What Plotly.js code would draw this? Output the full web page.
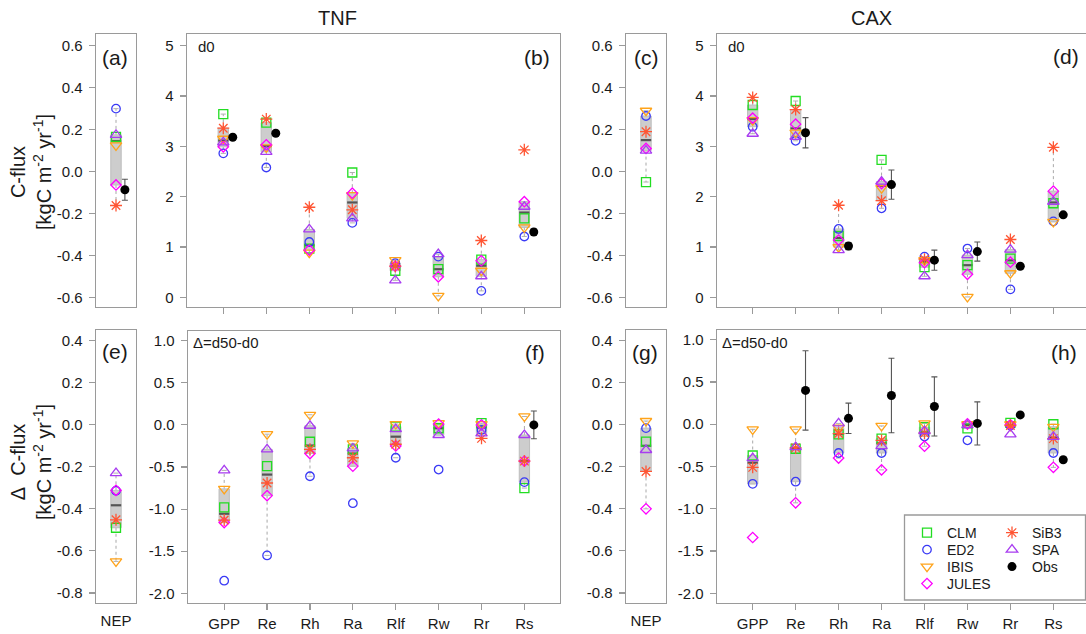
<!DOCTYPE html>
<html><head><meta charset="utf-8">
<script src="https://cdn.plot.ly/plotly-3.0.1.min.js"></script>
<style>html,body{margin:0;padding:0;background:#fff;}#chart{width:1086px;height:634px;}</style>
</head><body><div id="chart"></div>
<script>
// ---------------- DATA ----------------
const models = ['CLM', 'ED2', 'IBIS', 'JULES', 'SiB3', 'SPA'];
const fluxCats = ['GPP', 'Re', 'Rh', 'Ra', 'Rlf', 'Rw', 'Rr', 'Rs'];
const nepCats = ['NEP'];

// NEP, values in model order (CLM, ED2, IBIS, JULES, SiB3, SPA)
const nep_TNF_d0 = [0.165, 0.30, 0.125, -0.064, -0.162, 0.175];
const nep_CAX_d0 = [-0.05, 0.265, 0.29, 0.11, 0.19, 0.10];
const nep_TNF_dd = [-0.49, -0.314, -0.65, -0.312, -0.452, -0.23];
const nep_CAX_dd = [-0.08, -0.016, 0.018, -0.40, -0.222, -0.12];
const nepObs_TNF_d0 = [-0.087];
const nepObsErr_TNF_d0 = [0.05];

// TNF d0 (GPP, Re, Rh, Ra, Rlf, Rw, Rr, Rs)
const tnf_d0_CLM   = [3.64, 3.47, 0.97, 2.48, 0.53, 0.56, 0.75, 1.57];
const tnf_d0_ED2   = [2.86, 2.58, 1.10, 1.48, 0.68, 0.81, 0.13, 1.21];
const tnf_d0_IBIS  = [3.15, 2.98, 0.89, 2.03, 0.74, 0.03, 0.53, 1.39];
const tnf_d0_JULES = [2.99, 3.03, 0.94, 2.07, 0.62, 0.41, 0.73, 1.90];
const tnf_d0_SiB3  = [3.36, 3.54, 1.79, 1.74, 0.62, null, 1.13, 2.93];
const tnf_d0_SPA   = [3.08, 2.89, 1.35, 1.57, 0.34, 0.86, 0.42, 1.80];
const tnf_d0_obs    = [3.18, 3.26, null, null, null, null, null, 1.30];
const tnf_d0_obsErr = [0.03, 0.03, null, null, null, null, null, 0.06];

// CAX d0
const cax_d0_CLM   = [3.82, 3.90, 1.22, 2.73, 0.60, 0.64, 0.77, 1.87];
const cax_d0_ED2   = [3.39, 3.11, 1.36, 1.77, 0.81, 0.97, 0.16, 1.51];
const cax_d0_IBIS  = [3.52, 3.27, 1.00, 2.17, 0.74, 0.01, 0.48, 1.50];
const cax_d0_JULES = [3.56, 3.44, 1.14, 2.26, 0.69, 0.46, 0.70, 2.11];
const cax_d0_SiB3  = [3.97, 3.73, 1.83, 1.92, 0.76, null, 1.15, 2.98];
const cax_d0_SPA   = [3.25, 3.19, 0.94, 2.30, 0.42, 0.84, 0.95, 1.90];
const cax_d0_obs    = [null, 3.27, 1.02, 2.24, 0.74, 0.91, 0.62, 1.64];
const cax_d0_obsErr = [null, 0.30, 0.07, 0.29, 0.20, 0.19, 0, 0];

// TNF delta = d50 - d0
const tnf_dd_CLM   = [-0.98, -0.49, -0.20, -0.29, -0.02, -0.04, 0.02, -0.75];
const tnf_dd_ED2   = [-1.85, -1.55, -0.61, -0.93, -0.39, -0.53, -0.06, -0.68];
const tnf_dd_IBIS  = [-0.76, -0.11, 0.12, -0.22, 0.01, 0.02, 0.01, 0.10];
const tnf_dd_JULES = [-1.16, -0.84, -0.34, -0.49, -0.25, 0.01, 0.00, -0.43];
const tnf_dd_SiB3  = [-1.13, -0.69, -0.29, -0.39, -0.23, null, -0.16, -0.43];
const tnf_dd_SPA   = [-0.54, -0.29, -0.01, -0.28, -0.05, -0.12, -0.10, -0.12];
const tnf_dd_obs    = [null, null, null, null, null, null, null, 0.00];
const tnf_dd_obsErr = [null, null, null, null, null, null, null, 0.165];

// CAX delta = d50 - d0
const cax_dd_CLM   = [-0.37, -0.29, -0.12, -0.17, -0.035, -0.05, 0.017, 0.00];
const cax_dd_ED2   = [-0.705, -0.68, -0.34, -0.34, -0.145, -0.19, -0.015, -0.34];
const cax_dd_IBIS  = [-0.06, -0.06, -0.04, -0.02, 0.01, 0.00, 0.00, -0.03];
const cax_dd_JULES = [-1.34, -0.93, -0.40, -0.54, -0.26, 0.005, -0.007, -0.51];
const cax_dd_SiB3  = [-0.51, -0.28, -0.11, -0.19, -0.105, null, -0.015, -0.17];
const cax_dd_SPA   = [-0.40, -0.27, 0.01, -0.26, -0.08, -0.01, -0.12, -0.15];
const cax_dd_obs    = [null, 0.40, 0.07, 0.34, 0.21, 0.01, 0.11, -0.42];
const cax_dd_obsErr = [null, 0.47, 0.18, 0.44, 0.35, 0.255, 0, 0];

// tick values
const yTicksNepTop = [-0.6, -0.4, -0.2, 0, 0.2, 0.4, 0.6];
const yTicksFluxTop = [0, 1, 2, 3, 4, 5];
const yTicksNepBot = [-0.8, -0.6, -0.4, -0.2, 0, 0.2, 0.4];
const yTicksFluxBot = [-2, -1.5, -1, -0.5, 0, 0.5, 1];

// ---------------- STYLE ----------------
const modelColors = ['#22dd22', '#3a3af5', '#ffa31a', '#ff00ff', '#ff5533', '#a83cf0'];
const modelSymbols = ['square-open', 'circle-open', 'triangle-down-open', 'diamond-open', 'asterisk-open', 'triangle-up-open'];
const modelSizes = [9, 8.5, 10, 8, 10, 10];
const modelLegend = ['legend', 'legend2', 'legend3', 'legend4', 'legend5', 'legend6'];
const W = 1086, H = 634;
const px = v => v / W;
const py = v => 1 - v / H;
const FONT = 'Liberation Sans, Arial, sans-serif';
const AX = '#9a9a9a';

function fivenum(v) {
  const n = v.length;
  const n4 = Math.floor((n + 3) / 2) / 2;
  const d = [1, n4, (n + 1) / 2, n + 1 - n4, n];
  return d.map(p => 0.5 * (v[Math.floor(p) - 1] + v[Math.ceil(p) - 1]));
}
function boxStats(vals) {
  const v = vals.filter(a => a !== null && a !== undefined).sort((a, b) => a - b);
  const f = fivenum(v);
  const iqr = f[3] - f[1];
  const loLim = f[1] - 1.5 * iqr, hiLim = f[3] + 1.5 * iqr;
  const lo = Math.min(...v.filter(a => a >= loLim));
  const hi = Math.max(...v.filter(a => a <= hiLim));
  return { q1: f[1], med: f[2], q3: f[3], lo: lo, hi: hi };
}

const traces = [];
function addPanel(k, cats, modelVals, obs, obsErr, hw, obsOff, withLegend) {
  const xa = k === 1 ? 'x' : 'x' + k, ya = k === 1 ? 'y' : 'y' + k;
  const bx = [], by = [], mx = [], my = [], wx = [], wy = [], sx = [], sy = [];
  const sh = hw * 0.5;
  cats.forEach((c, i) => {
    const x = i + 1;
    const s = boxStats(modelVals.map(m => m[i]));
    bx.push(x - hw, x + hw, x + hw, x - hw, x - hw, null);
    by.push(s.q1, s.q1, s.q3, s.q3, s.q1, null);
    mx.push(x - hw, x + hw, null); my.push(s.med, s.med, null);
    wx.push(x, x, null, x, x, null); wy.push(s.q1, s.lo, null, s.q3, s.hi, null);
    sx.push(x - sh, x + sh, null, x - sh, x + sh, null); sy.push(s.lo, s.lo, null, s.hi, s.hi, null);
  });
  const base = { xaxis: xa, yaxis: ya, showlegend: false, hoverinfo: 'skip' };
  traces.push(Object.assign({}, base, { x: wx, y: wy, mode: 'lines', line: { color: '#a8a8a8', width: 1, dash: 'dot' } }));
  traces.push(Object.assign({}, base, { x: sx, y: sy, mode: 'lines', line: { color: '#b0b0b0', width: 1 } }));
  traces.push(Object.assign({}, base, { x: bx, y: by, mode: 'lines', fill: 'toself', fillcolor: '#cdcdcd', line: { color: '#bdbdbd', width: 1 } }));
  traces.push(Object.assign({}, base, { x: mx, y: my, mode: 'lines', line: { color: '#555555', width: 2.2 } }));
  modelVals.forEach((vals, m) => {
    traces.push({
      xaxis: xa, yaxis: ya, name: models[m], legend: modelLegend[m],
      showlegend: withLegend, hoverinfo: 'skip',
      x: cats.map((c, i) => i + 1), y: vals, mode: 'markers',
      marker: { symbol: modelSymbols[m], size: modelSizes[m], color: modelColors[m], line: { color: modelColors[m], width: 1.3 } }
    });
  });
  if (obs) {
    traces.push({
      xaxis: xa, yaxis: ya, name: 'Obs', legend: 'legend7', showlegend: withLegend, hoverinfo: 'skip',
      x: cats.map((c, i) => i + 1 + obsOff), y: obs, mode: 'markers',
      marker: { symbol: 'circle', size: 9, color: '#000000' },
      error_y: { type: 'data', array: obsErr, visible: true, color: '#555555', thickness: 1.1, width: 3 }
    });
  }
}

const nepAsArrays = v => v.map(a => [a]);

addPanel(1, nepCats, nepAsArrays(nep_TNF_d0), nepObs_TNF_d0, nepObsErr_TNF_d0, 0.14, 0.24, false);
addPanel(2, fluxCats, [tnf_d0_CLM, tnf_d0_ED2, tnf_d0_IBIS, tnf_d0_JULES, tnf_d0_SiB3, tnf_d0_SPA], tnf_d0_obs, tnf_d0_obsErr, 0.12, 0.22, true);
addPanel(3, nepCats, nepAsArrays(nep_CAX_d0), null, null, 0.14, 0.24, false);
addPanel(4, fluxCats, [cax_d0_CLM, cax_d0_ED2, cax_d0_IBIS, cax_d0_JULES, cax_d0_SiB3, cax_d0_SPA], cax_d0_obs, cax_d0_obsErr, 0.12, 0.23, false);
addPanel(5, nepCats, nepAsArrays(nep_TNF_dd), null, null, 0.14, 0.24, false);
addPanel(6, fluxCats, [tnf_dd_CLM, tnf_dd_ED2, tnf_dd_IBIS, tnf_dd_JULES, tnf_dd_SiB3, tnf_dd_SPA], tnf_dd_obs, tnf_dd_obsErr, 0.12, 0.22, false);
addPanel(7, nepCats, nepAsArrays(nep_CAX_dd), null, null, 0.14, 0.24, false);
addPanel(8, fluxCats, [cax_dd_CLM, cax_dd_ED2, cax_dd_IBIS, cax_dd_JULES, cax_dd_SiB3, cax_dd_SPA], cax_dd_obs, cax_dd_obsErr, 0.12, 0.23, false);

// ---------------- LAYOUT ----------------
const panelDefs = [
  { x: [96, 136], y: [34, 307], xr: [0.46, 1.54], yr: [-0.646, 0.656], yt: yTicksNepTop, cats: nepCats, labels: false, xticks: false, mirrorY: true },
  { x: [187, 560], y: [34, 307], xr: [0.156, 8.83], yr: [-0.19, 5.23], yt: yTicksFluxTop, cats: fluxCats, labels: false, xticks: true, mirrorY: true },
  { x: [626, 666], y: [34, 307], xr: [0.46, 1.54], yr: [-0.646, 0.656], yt: yTicksNepTop, cats: nepCats, labels: false, xticks: false, mirrorY: true },
  { x: [717, 1086], y: [34, 307], xr: [0.169, 8.76], yr: [-0.19, 5.23], yt: yTicksFluxTop, cats: fluxCats, labels: false, xticks: true, mirrorY: false },
  { x: [96, 136], y: [330, 603], xr: [0.46, 1.54], yr: [-0.848, 0.451], yt: yTicksNepBot, cats: nepCats, labels: true, xticks: false, mirrorY: true },
  { x: [188, 560], y: [331, 603], xr: [0.156, 8.83], yr: [-2.115, 1.115], yt: yTicksFluxBot, cats: fluxCats, labels: true, xticks: true, mirrorY: true },
  { x: [626, 666], y: [330, 603], xr: [0.46, 1.54], yr: [-0.848, 0.451], yt: yTicksNepBot, cats: nepCats, labels: true, xticks: false, mirrorY: true },
  { x: [717, 1086], y: [330, 603], xr: [0.169, 8.76], yr: [-2.115, 1.115], yt: yTicksFluxBot, cats: fluxCats, labels: true, xticks: true, mirrorY: false }
];

const layout = {
  width: W, height: H, margin: { l: 0, r: 0, t: 0, b: 0, pad: 0 },
  paper_bgcolor: '#ffffff', plot_bgcolor: '#ffffff',
  font: { family: FONT, color: '#1a1a1a', size: 15 },
  showlegend: true,
  annotations: [], shapes: []
};

// one legend box per entry so the rows can sit as tightly as in the reference
const legendPos = [[907, 533], [907, 550], [907, 567], [907, 584], [992, 533], [992, 550], [992, 567]];
['legend', 'legend2', 'legend3', 'legend4', 'legend5', 'legend6', 'legend7'].forEach((name, i) => {
  layout[name] = {
    x: px(legendPos[i][0]), y: py(legendPos[i][1]), xanchor: 'left', yanchor: 'middle',
    bgcolor: 'rgba(0,0,0,0)', borderwidth: 0, itemclick: false, itemdoubleclick: false,
    font: { size: 14, family: FONT, color: '#1a1a1a' }
  };
});

panelDefs.forEach((p, i) => {
  const k = i + 1;
  const xk = k === 1 ? 'xaxis' : 'xaxis' + k, yk = k === 1 ? 'yaxis' : 'yaxis' + k;
  layout[xk] = {
    domain: [px(p.x[0]), px(p.x[1])], range: p.xr, anchor: k === 1 ? 'y' : 'y' + k,
    showline: true, mirror: true, linecolor: AX, linewidth: 1.3, showgrid: false, zeroline: false,
    tickvals: p.cats.map((c, j) => j + 1), ticktext: p.cats,
    ticks: p.xticks ? 'outside' : '', ticklen: 6, tickwidth: 1.2, tickcolor: AX,
    showticklabels: p.labels, ticklabelstandoff: p.xticks ? 1 : 4,
    tickfont: { size: 15, family: FONT, color: '#1a1a1a' }, fixedrange: true
  };
  layout[yk] = {
    domain: [py(p.y[1]), py(p.y[0])], range: p.yr, anchor: k === 1 ? 'x' : 'x' + k,
    showline: true, mirror: p.mirrorY, linecolor: AX, linewidth: 1.3, showgrid: false, zeroline: false,
    tickvals: p.yt, ticktext: p.yt.map(v => (p.yt === yTicksFluxTop ? String(v) : v.toFixed(1))),
    ticks: 'outside', ticklen: 6, tickwidth: 1.2, tickcolor: AX, ticklabelstandoff: 3,
    tickfont: { size: 15, family: FONT, color: '#1a1a1a' }, fixedrange: true
  };
});

function ann(text, x, y, size, xanchor, extra) {
  return Object.assign({ text: text, x: px(x), y: py(y), xref: 'paper', yref: 'paper', showarrow: false,
    xanchor: xanchor || 'center', yanchor: 'middle', font: { size: size, family: FONT, color: '#1a1a1a' } }, extra || {});
}
layout.annotations.push(ann('TNF', 337, 18, 20));
layout.annotations.push(ann('CAX', 871, 18, 20));
[['(a)', 115, 57], ['(b)', 537, 57], ['(c)', 646, 57], ['(d)', 1066, 56],
 ['(e)', 115, 351], ['(f)', 535, 352], ['(g)', 645, 352], ['(h)', 1064, 352]].forEach(a => layout.annotations.push(ann(a[0], a[1], a[2], 21)));
layout.annotations.push(ann('d0', 196, 47, 15, 'left'));
layout.annotations.push(ann('d0', 726, 47, 15, 'left'));
layout.annotations.push(ann('\u0394=d50-d0', 191, 342, 15, 'left'));
layout.annotations.push(ann('\u0394=d50-d0', 720, 342, 15, 'left'));
layout.annotations.push(ann('C-flux<br>[kgC m<sup>-2</sup> yr<sup>-1</sup>]', 31, 172, 20, 'center', { textangle: -90 }));
layout.annotations.push(ann('\u0394\u00a0\u00a0C-flux<br>[kgC m<sup>-2</sup> yr<sup>-1</sup>]', 31, 462, 20, 'center', { textangle: -90 }));

layout.shapes.push({ type: 'rect', xref: 'paper', yref: 'paper', x0: px(904.5), x1: px(1085.5), y0: py(600), y1: py(515),
  line: { color: AX, width: 1.3 }, fillcolor: '#ffffff', layer: 'above' });

Plotly.newPlot('chart', traces, layout, { displayModeBar: false, staticPlot: true });
</script></body></html>
